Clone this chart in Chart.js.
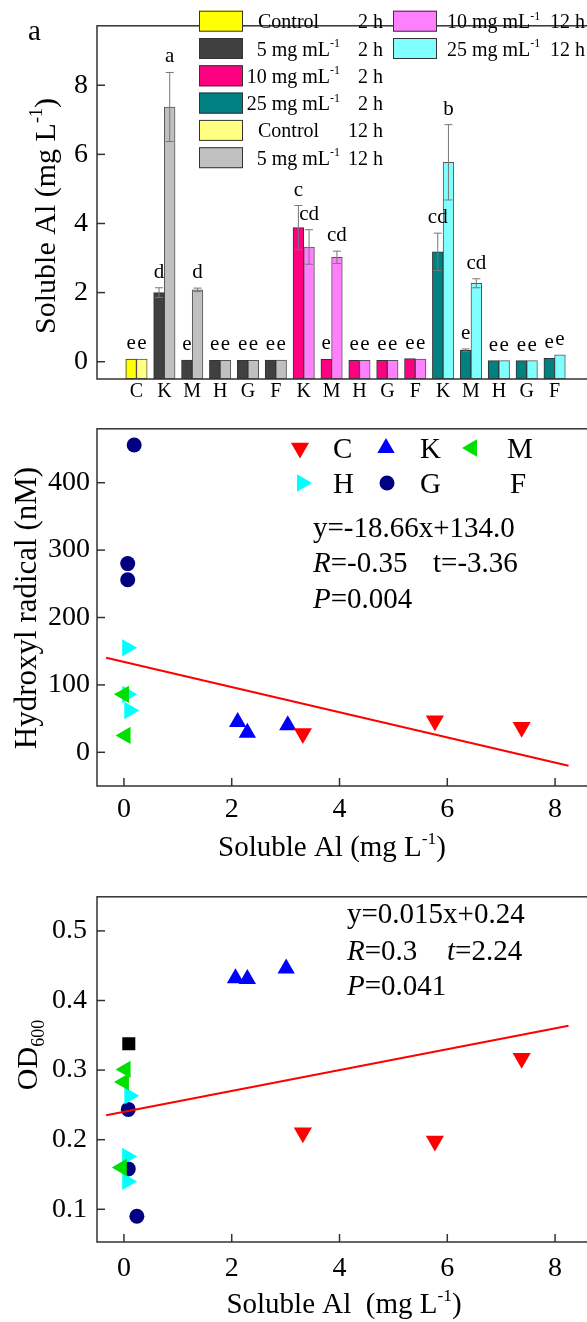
<!DOCTYPE html>
<html>
<head>
<meta charset="utf-8">
<script src="https://cdn.jsdelivr.net/npm/chart.js@4.4.0/dist/chart.umd.min.js"></script>
<style>
  html, body { margin: 0; padding: 0; background: #fff; overflow: hidden; }
  #wrap { position: relative; width: 587px; height: 1322px; overflow: hidden; }
  canvas { position: absolute; left: 0; }
</style>
</head>
<body>
<div id="wrap">
  <canvas id="alChart" width="620" height="405" style="top:0px;width:620px;height:405px"></canvas>
  <canvas id="ohChart" width="620" height="465" style="top:405px;width:620px;height:465px"></canvas>
  <canvas id="odChart" width="620" height="452" style="top:870px;width:620px;height:452px"></canvas>
</div>
<script>
// ---- panel a: soluble Al bars ----
const categories = ['C', 'K', 'M', 'H', 'G', 'F', 'K', 'M', 'H', 'G', 'F', 'K', 'M', 'H', 'G', 'F'];
const groupOf = [0, 1, 1, 1, 1, 1, 2, 2, 2, 2, 2, 3, 3, 3, 3, 3];
const concLabels = ['Control', '5', '10', '25'];
const timeLabels = ['2 h', '12 h'];
const colors2h = ['#FFFF00', '#404040', '#FF0080', '#008080'];
const colors12h = ['#FFFF80', '#C0C0C0', '#FF80FF', '#80FFFF'];

const al2h = [0.08, 2.00, 0.05, 0.04, 0.04, 0.05, 3.88, 0.07, 0.04, 0.04, 0.09, 3.18, 0.33, 0.03, 0.03, 0.10];
const al2hErr = [0, 0.14, 0, 0, 0, 0, 0.64, 0, 0, 0, 0, 0.54, 0.04, 0, 0, 0];
const al12h = [0.08, 7.37, 2.08, 0.04, 0.04, 0.05, 3.32, 3.02, 0.04, 0.04, 0.08, 5.77, 2.27, 0.03, 0.03, 0.20];
const al12hErr = [0, 1.00, 0.05, 0, 0, 0, 0.50, 0.18, 0, 0, 0, 1.09, 0.13, 0, 0, 0];
const sig2h = ['e', 'd', 'e', 'e', 'e', 'e', 'c', 'e', 'e', 'e', 'e', 'cd', 'e', 'e', 'e', 'e'];
const sig12h = ['e', 'a', 'd', 'e', 'e', 'e', 'cd', 'cd', 'e', 'e', 'e', 'b', 'cd', 'e', 'e', 'e'];
const alTicks = [0, 2, 4, 6, 8];

// ---- panel b / c: scatter vs soluble Al ----
const alTicksX = [0, 2, 4, 6, 8];
const ohTicks = [0, 100, 200, 300, 400];
const odTicks = [0.1, 0.2, 0.3, 0.4, 0.5];

const ohCx = [3.32, 5.77, 7.38], ohCy = [28, 47, 37];
const ohKx = [2.11, 2.29, 3.04], ohKy = [45, 29, 40];
const ohMx = [0.00, 0.03], ohMy = [86, 25];
const ohHx = [0.06, 0.06, 0.10], ohHy = [155, 86, 62];
const ohGx = [0.19, 0.07, 0.07], ohGy = [456, 280, 256];
const ohFx = [], ohFy = [];
const ohSlope = -18.66, ohIntercept = 134.0;

const odCx = [3.32, 5.77, 7.38], odCy = [0.210, 0.198, 0.317];
const odKx = [2.07, 2.29, 3.01], odKy = [0.432, 0.431, 0.446];
const odMx = [0.03, 0.00, -0.04], odMy = [0.301, 0.283, 0.160];
const odHx = [0.10, 0.06, 0.06], odHy = [0.263, 0.176, 0.140];
const odGx = [0.08, 0.08, 0.24], odGy = [0.2435, 0.158, 0.090];
const odFx = [0.09], odFy = [0.338];
const odSlope = 0.015, odIntercept = 0.24;

const fitX = [-0.33, 8.25];

const SERIF = '"Liberation Serif", "Times New Roman", serif';
Chart.defaults.font.family = SERIF;
Chart.defaults.color = '#000';

// text with italic / superscript / subscript pieces
function drawRich(ctx, parts, x, y, size, align) {
  const seg = parts.map(([t, s]) => {
    const small = (s === 'sup' || s === 'sub');
    const font = (s === 'i' ? 'italic ' : '') + (small ? size * 0.6 : size) + 'px ' + SERIF;
    ctx.font = font;
    return { t, s, font, w: ctx.measureText(t).width };
  });
  const total = seg.reduce((a, b) => a + b.w, 0);
  let cx = align === 'center' ? x - total / 2 : (align === 'right' ? x - total : x);
  ctx.textAlign = 'left';
  ctx.textBaseline = 'alphabetic';
  seg.forEach(p => {
    ctx.font = p.font;
    const dy = p.s === 'sup' ? -size * 0.42 : (p.s === 'sub' ? size * 0.22 : 0);
    ctx.fillText(p.t, cx, y + dy);
    cx += p.w;
  });
}

function drawRotated(ctx, parts, x, y, size) {
  ctx.save();
  ctx.translate(x, y);
  ctx.rotate(-Math.PI / 2);
  drawRich(ctx, parts, 0, 0, size, 'center');
  ctx.restore();
}

function marker(ctx, style, rotation, radius, color, x, y) {
  ctx.save();
  ctx.fillStyle = color;
  Chart.helpers.drawPoint(ctx, { pointStyle: style, rotation: rotation, radius: radius, borderWidth: 0 }, x, y);
  ctx.restore();
}

// frame box + inward tick marks
const framePlugin = {
  id: 'frame',
  afterDraw(chart, args, opts) {
    const { ctx, chartArea: a } = chart;
    ctx.save();
    ctx.strokeStyle = '#333';
    ctx.lineWidth = 1.5;
    ctx.strokeRect(a.left, a.top, a.right - a.left, a.bottom - a.top);
    (opts.ticks || []).forEach(id => {
      const s = chart.scales[id];
      s.ticks.forEach(t => {
        const p = s.getPixelForValue(t.value);
        ctx.beginPath();
        if (s.isHorizontal()) { ctx.moveTo(p, a.bottom); ctx.lineTo(p, a.bottom - 8); }
        else { ctx.moveTo(a.left, p); ctx.lineTo(a.left + 8, p); }
        ctx.stroke();
      });
    });
    ctx.restore();
  }
};

// error bars and significance letters
const barMarks = {
  id: 'barMarks',
  afterDatasetsDraw(chart) {
    const { ctx } = chart;
    const ys = chart.scales.y;
    ctx.save();
    chart.data.datasets.forEach((ds, di) => {
      chart.getDatasetMeta(di).data.forEach((bar, i) => {
        const v = ds.data[i].y, e = ds.errors[i];
        const top = ys.getPixelForValue(v + e);
        if (e > 0) {
          const bot = ys.getPixelForValue(v - e);
          ctx.strokeStyle = '#777';
          ctx.lineWidth = 1;
          ctx.beginPath();
          ctx.moveTo(bar.x, top); ctx.lineTo(bar.x, bot);
          ctx.moveTo(bar.x - 4, top); ctx.lineTo(bar.x + 4, top);
          ctx.moveTo(bar.x - 4, bot); ctx.lineTo(bar.x + 4, bot);
          ctx.stroke();
        }
        ctx.fillStyle = '#000';
        ctx.font = '21px ' + SERIF;
        ctx.textAlign = 'center';
        ctx.textBaseline = 'alphabetic';
        ctx.fillText(ds.letters[i], bar.x, top - 10);
      });
    });
    ctx.restore();
  }
};

function concParts(g) {
  if (g === 0) return [['Control', '']];
  return [[concLabels[g] + ' mg mL', ''], ['-1', 'sup']];
}

const alDecor = {
  id: 'alDecor',
  afterDraw(chart) {
    const { ctx } = chart;
    ctx.save();
    ctx.fillStyle = '#000';
    drawRich(ctx, [['a', '']], 28, 40, 29, 'left');
    drawRotated(ctx, [['Soluble Al (mg L', ''], ['-1', 'sup'], [')', '']], 55, 216, 30);
    // legend: 2 h series then 12 h series, 6 rows in the left column
    const items = [];
    timeLabels.forEach((t, ti) => concLabels.forEach((c, g) => {
      items.push({ g, t, color: ti === 0 ? colors2h[g] : colors12h[g] });
    }));
    items.forEach((it, k) => {
      const col = k < 6 ? 0 : 1;
      const row = k < 6 ? k : k - 6;
      const top = 10.7 + row * 27.3;
      const sx = col === 0 ? 199 : 393;
      ctx.fillStyle = it.color;
      ctx.fillRect(sx, top, 44, 21);
      ctx.strokeStyle = '#333';
      ctx.lineWidth = 1;
      ctx.strokeRect(sx + 0.5, top + 0.5, 43, 20);
      ctx.fillStyle = '#000';
      const base = top + 17.5;
      if (col === 0) {
        if (it.g === 0) drawRich(ctx, concParts(it.g), 258, base, 20, 'left');
        else drawRich(ctx, concParts(it.g), 340, base, 20, 'right');
        drawRich(ctx, [[it.t, '']], 383, base, 20, 'right');
      } else {
        drawRich(ctx, concParts(it.g), 447, base, 20, 'left');
        drawRich(ctx, [[it.t, '']], 585, base, 20, 'right');
      }
    });
    ctx.restore();
  }
};

new Chart(document.getElementById('alChart'), {
  type: 'bar',
  data: {
    datasets: [
      {
        label: timeLabels[0],
        data: al2h.map((v, i) => ({ x: i, y: v })),
        backgroundColor: groupOf.map(g => colors2h[g]),
        borderColor: '#333', borderWidth: 1, borderSkipped: false,
        base: -0.5, barThickness: 10.7,
        errors: al2hErr, letters: sig2h
      },
      {
        label: timeLabels[1],
        data: al12h.map((v, i) => ({ x: i, y: v })),
        backgroundColor: groupOf.map(g => colors12h[g]),
        borderColor: '#555', borderWidth: 1, borderSkipped: false,
        base: -0.5, barThickness: 10.7,
        errors: al12hErr, letters: sig12h
      }
    ]
  },
  options: {
    responsive: false,
    animation: false,
    layout: { padding: { top: 11, left: 0, right: 0, bottom: 0 } },
    plugins: { legend: { display: false }, tooltip: { enabled: false }, frame: { ticks: ['y'] } },
    scales: {
      x: {
        type: 'linear', min: -0.83, max: 16.76,
        grid: { display: false, drawTicks: false }, border: { display: false },
        afterBuildTicks: s => { s.ticks = categories.map((c, i) => ({ value: i })); },
        afterFit: s => { s.height = 26; },
        ticks: { autoSkip: false, maxRotation: 0, padding: 1, font: { size: 20 }, callback: v => categories[v] }
      },
      y: {
        min: -0.5, max: 9.72,
        grid: { display: false, drawTicks: false }, border: { display: false },
        afterBuildTicks: s => { s.ticks = alTicks.map(v => ({ value: v })); },
        afterFit: s => { s.width = 97; },
        ticks: { padding: 9, font: { size: 28 }, callback: v => String(v) }
      }
    }
  },
  plugins: [framePlugin, barMarks, alDecor]
});

// ---- scatter panels ----
function pts(xs, ys) { return xs.map((x, i) => ({ x, y: ys[i] })); }
function pointSet(label, xs, ys, color, style, rotation, radius) {
  return {
    label, data: pts(xs, ys), backgroundColor: color, borderWidth: 0,
    pointStyle: style, rotation, pointRadius: radius, showLine: false
  };
}
function fitLine(slope, intercept) {
  return {
    type: 'line', label: 'fit',
    data: fitX.map(x => ({ x, y: slope * x + intercept })),
    borderColor: '#FF0000', borderWidth: 2, pointRadius: 0, fill: false, tension: 0
  };
}

const markerStyles = {
  C: ['triangle', 180, 10.5, '#FF0000'],
  K: ['triangle', 0, 10, '#0000FF'],
  M: ['triangle', -90, 10, '#00E000'],
  H: ['triangle', 90, 10, '#00FFFF'],
  G: ['circle', 0, 7.5, '#000080'],
  F: ['rect', 0, 9.2, '#000000']
};
function sets(xy) {
  return Object.keys(markerStyles).map(k => {
    const m = markerStyles[k];
    return pointSet(k, xy[k][0], xy[k][1], m[3], m[0], m[1], m[2]);
  });
}

function scatterOptions(yMin, yMax, yTicks, yFmt, xPad, yPad, xAxisH, topPad) {
  return {
    responsive: false,
    animation: false,
    layout: { padding: { top: topPad, left: 0, right: 0, bottom: 0 } },
    plugins: { legend: { display: false }, tooltip: { enabled: false }, frame: { ticks: ['x', 'y'] } },
    scales: {
      x: {
        type: 'linear', min: -0.5, max: 9.01,
        grid: { display: false, drawTicks: false }, border: { display: false },
        afterBuildTicks: s => { s.ticks = alTicksX.map(v => ({ value: v })); },
        afterFit: s => { s.height = xAxisH; },
        ticks: { autoSkip: false, maxRotation: 0, padding: xPad, font: { size: 28 }, callback: v => String(v) }
      },
      y: {
        min: yMin, max: yMax,
        grid: { display: false, drawTicks: false }, border: { display: false },
        afterBuildTicks: s => { s.ticks = yTicks.map(v => ({ value: v })); },
        afterFit: s => { s.width = 97; },
        ticks: { padding: yPad, font: { size: 28 }, callback: yFmt }
      }
    }
  };
}

const ohDecor = {
  id: 'ohDecor',
  afterDraw(chart) {
    const { ctx } = chart;
    ctx.save();
    ctx.fillStyle = '#000';
    drawRotated(ctx, [['Hydroxyl radical (nM)', '']], 36, 203, 31);
    drawRich(ctx, [['Soluble Al (mg L', ''], ['-1', 'sup'], [')', '']], 332, 451, 29, 'center');
    // legend, two rows of three
    const legend = [
      ['C', 300, 43, 333, ohCx], ['K', 386, 43, 420, ohKx], ['M', 472, 43, 507, ohMx],
      ['H', 302, 78, 333, ohHx], ['G', 387, 78, 420, ohGx], ['F', 472, 78, 510, ohFx]
    ];
    legend.forEach(([k, mx, my, tx, xs]) => {
      const m = markerStyles[k];
      if (xs.length) marker(ctx, m[0], m[1], m[2], m[3], mx, my);
      ctx.fillStyle = '#000';
      drawRich(ctx, [[k, '']], tx, my + 10, 29, 'left');
    });
    ctx.fillStyle = '#000';
    drawRich(ctx, [['y=' + ohSlope.toFixed(2) + 'x+' + ohIntercept.toFixed(1), '']], 313, 132, 29, 'left');
    drawRich(ctx, [['R', 'i'], ['=-0.35', '']], 313, 167, 29, 'left');
    drawRich(ctx, [['t=-3.36', '']], 433, 167, 29, 'left');
    drawRich(ctx, [['P', 'i'], ['=0.004', '']], 313, 203, 29, 'left');
    ctx.restore();
  }
};

new Chart(document.getElementById('ohChart'), {
  type: 'scatter',
  data: {
    datasets: [fitLine(ohSlope, ohIntercept)].concat(sets({
      C: [ohCx, ohCy], K: [ohKx, ohKy], M: [ohMx, ohMy], H: [ohHx, ohHy], G: [ohGx, ohGy], F: [ohFx, ohFy]
    }))
  },
  options: scatterOptions(-50, 480, ohTicks, v => String(v), 7, 7, 84, 15),
  plugins: [framePlugin, ohDecor]
});

const odDecor = {
  id: 'odDecor',
  afterDraw(chart) {
    const { ctx } = chart;
    ctx.save();
    ctx.fillStyle = '#000';
    drawRotated(ctx, [['OD', ''], ['600', 'sub']], 37, 185, 30);
    drawRich(ctx, [['Soluble Al  (mg L', ''], ['-1', 'sup'], [')', '']], 344, 443, 29, 'center');
    drawRich(ctx, [['y=' + odSlope.toFixed(3) + 'x+' + odIntercept.toFixed(2), '']], 347, 53, 29, 'left');
    drawRich(ctx, [['R', 'i'], ['=0.3', '']], 347, 90, 29, 'left');
    drawRich(ctx, [['t', 'i'], ['=2.24', '']], 447, 90, 29, 'left');
    drawRich(ctx, [['P', 'i'], ['=0.041', '']], 347, 125, 29, 'left');
    ctx.restore();
  }
};

new Chart(document.getElementById('odChart'), {
  type: 'scatter',
  data: {
    datasets: [fitLine(odSlope, odIntercept)].concat(sets({
      C: [odCx, odCy], K: [odKx, odKy], M: [odMx, odMy], H: [odHx, odHy], G: [odGx, odGy], F: [odFx, odFy]
    }))
  },
  options: scatterOptions(0.053, 0.549, odTicks, v => v.toFixed(1), 10, 10, 80, 8.3),
  plugins: [framePlugin, odDecor]
});
</script>
</body>
</html>
